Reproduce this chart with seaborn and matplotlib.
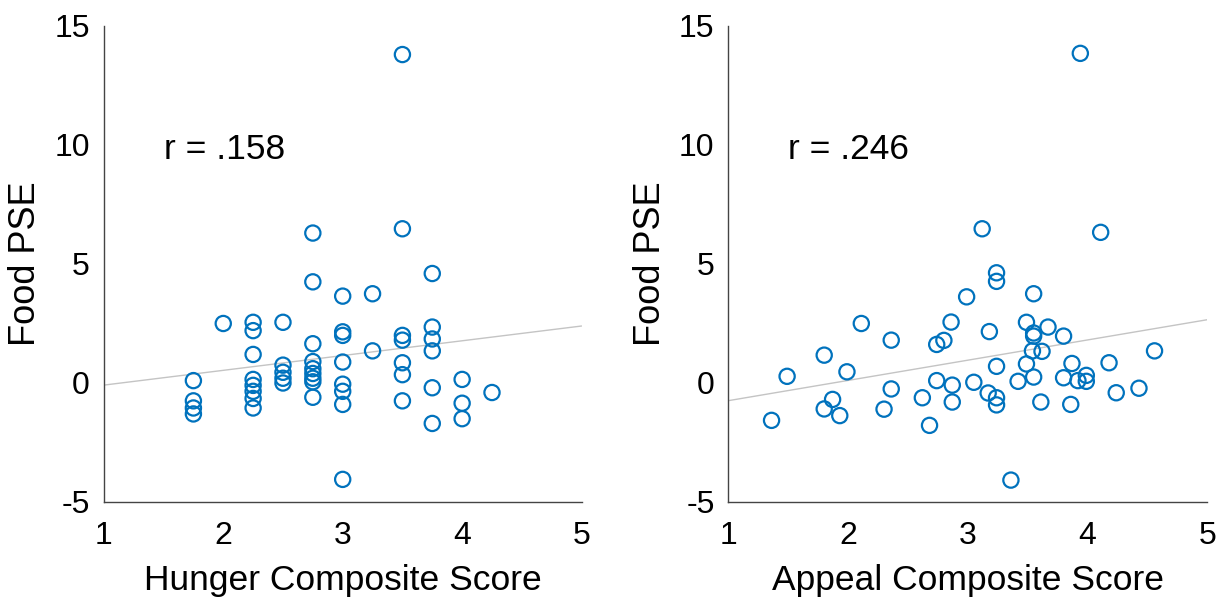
import matplotlib
matplotlib.use("Agg")
import matplotlib.pyplot as plt
import seaborn as sns
import numpy as np

# ---- data ----
hunger_score = [1.75, 1.75, 1.75, 1.75,
                2.0,
                2.25, 2.25, 2.25, 2.25, 2.25, 2.25, 2.25, 2.25,
                2.5, 2.5, 2.5, 2.5, 2.5,
                2.75, 2.75, 2.75, 2.75, 2.75, 2.75, 2.75, 2.75, 2.75,
                3.0, 3.0, 3.0, 3.0, 3.0, 3.0, 3.0, 3.0,
                3.25, 3.25,
                3.5, 3.5, 3.5, 3.5, 3.5, 3.5, 3.5,
                3.75, 3.75, 3.75, 3.75, 3.75, 3.75,
                4.0, 4.0, 4.0,
                4.25]
hunger_pse = [0.1, -0.75, -1.05, -1.3,
              2.5,
              2.55, 2.2, 1.2, 0.15, -0.1, -0.35, -0.65, -1.05,
              2.55, 0.75, 0.45, 0.2, 0.0,
              6.3, 4.25, 1.65, 0.9, 0.6, 0.4, 0.2, 0.05, -0.6,
              3.65, 2.15, 2.0, 0.88, -0.05, -0.35, -0.9, -4.05,
              3.75, 1.35,
              13.8, 6.48, 2.0, 1.8, 0.85, 0.35, -0.75,
              4.6, 2.35, 1.85, 1.35, -0.2, -1.7,
              0.15, -0.85, -1.5,
              -0.4]

appeal_score = [1.36, 1.49, 1.80, 1.80, 1.87, 1.93, 1.99, 2.11, 2.30, 2.36,
                2.36, 2.62, 2.68, 2.74, 2.74, 2.80, 2.86, 2.87, 2.87, 2.99,
                3.05, 3.12, 3.18, 3.17, 3.24, 3.24, 3.24, 3.24, 3.24, 3.36,
                3.42, 3.49, 3.49, 3.55, 3.55, 3.55, 3.54, 3.62, 3.55, 3.61,
                3.67, 3.80, 3.80, 3.87, 3.86, 3.94, 3.92, 3.99, 3.99, 4.11,
                4.18, 4.24, 4.43, 4.56]
appeal_pse = [-1.57, 0.28, 1.17, -1.09, -0.69, -1.37, 0.47, 2.5, -1.10, 1.80,
              -0.25, -0.62, -1.78, 1.62, 0.10, 1.79, 2.56, -0.09, -0.80, 3.62,
              0.03, 6.48, 2.16, -0.42, 4.63, 4.27, 0.70, -0.62, -0.92, -4.08,
              0.07, 2.55, 0.80, 3.75, 2.10, 1.97, 1.35, 1.33, 0.25, -0.80,
              2.35, 1.97, 0.22, 0.82, -0.90, 13.85, 0.10, 0.32, 0.07, 6.33,
              0.85, -0.41, -0.22, 1.35]

panels = [
    (hunger_score, hunger_pse, "Hunger Composite Score", "r = .158"),
    (appeal_score, appeal_pse, "Appeal Composite Score", "r = .246"),
]
x_ticks = [1, 2, 3, 4, 5]
y_ticks = [-5, 0, 5, 10, 15]

sns.set_style("white")
plt.rcParams["font.family"] = ["Liberation Sans", "DejaVu Sans"]
plt.rcParams["text.color"] = "black"
plt.rcParams["axes.labelcolor"] = "black"

fig = plt.figure(figsize=(12.2, 6.03), dpi=100)
axes_pos = [[0.0851, 0.1675, 0.3916, 0.7894],
            [0.5971, 0.1675, 0.3924, 0.7894]]

blue = "#0072BD"
for pos, (xs, ys, xlabel, rtext) in zip(axes_pos, panels):
    ax = fig.add_axes(pos)
    ax.set_xlim(1, 5)
    ax.set_ylim(-5, 15)
    sns.regplot(x=np.array(xs), y=np.array(ys), ax=ax, ci=None, truncate=False,
                scatter=False,
                line_kws={"color": "#c4c4c4", "lw": 1.0, "zorder": 1})
    sns.scatterplot(x=xs, y=ys, ax=ax, marker="o", s=120,
                    facecolor="none", edgecolor=blue, linewidth=1.6,
                    zorder=3, legend=False)
    ax.set_xlim(1, 5)
    ax.set_ylim(-5, 15)
    ax.set_xticks(x_ticks)
    ax.set_yticks(y_ticks)
    ax.set_xticklabels([str(t) for t in x_ticks])
    ax.set_yticklabels([str(t) for t in y_ticks])
    ax.tick_params(axis="both", labelsize=23, colors="#444444",
                   direction="out", length=5, width=1.0)
    ax.tick_params(axis="x", pad=9)
    ax.tick_params(axis="y", pad=5)
    ax.tick_params(axis="both", labelcolor="black")
    for side in ["top", "right"]:
        ax.spines[side].set_visible(False)
    for side in ["left", "bottom"]:
        ax.spines[side].set_color("#444444")
        ax.spines[side].set_linewidth(1.0)
    ax.set_xlabel(xlabel, fontsize=25.5, labelpad=9)
    ax.set_ylabel("Food PSE", fontsize=26, labelpad=8)
    ax.text(1.5, 9.8, rtext, fontsize=25.5, va="center", ha="left")

fig.savefig("out.png", dpi=100)
